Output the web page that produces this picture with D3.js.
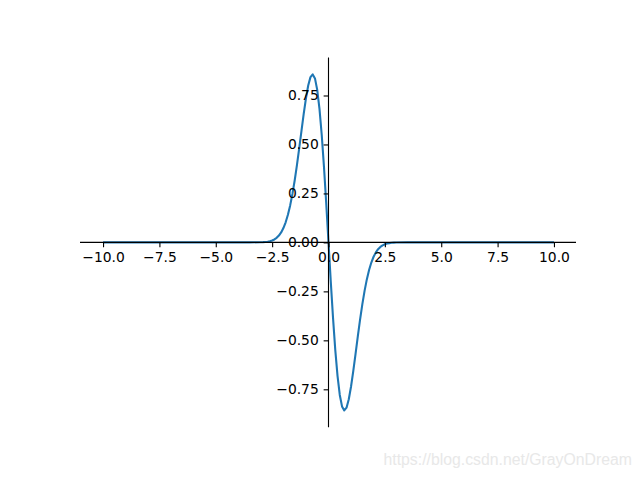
<!DOCTYPE html>
<html><head><meta charset="utf-8">
<script src="https://cdn.jsdelivr.net/npm/d3@7"></script>
<style>body{margin:0;background:#fff}svg{display:block}</style>
</head><body>
<script>
const xs = [-10,-7.5,-5,-4,-3.5,-3.0,-2.9,-2.8,-2.7,-2.6,-2.5,-2.4,-2.3,-2.2,-2.1,-2.0,-1.9,-1.8,-1.7,-1.6,-1.5,-1.4,-1.3,-1.2,-1.1,-1.0,-0.9,-0.8,-0.7,-0.6,-0.5,-0.4,-0.3,-0.2,-0.1,0,
  0.1,0.2,0.3,0.4,0.5,0.6,0.7,0.8,0.9,1.0,1.1,1.2,1.3,1.4,1.5,1.6,1.7,1.8,1.9,2.0,2.1,2.2,2.3,2.4,2.5,2.6,2.7,2.8,2.9,3.0,3.5,4,5,7.5,10];
const ys = [0,0,0,0,0.00003,0.000740,0.001288,0.002206,0.003688,0.006027,0.009650,0.015125,0.023193,0.034791,0.051051,0.073263,0.102798,0.140990,0.188958,0.247376,0.316197,0.394402,0.479752,0.568627,0.656034,0.735759,0.800745,0.843667,0.857677,0.837211,0.778801,0.681715,0.548359,0.384316,0.19801,0,
  -0.19801,-0.384316,-0.548359,-0.681715,-0.778801,-0.837211,-0.857677,-0.843667,-0.800745,-0.735759,-0.656034,-0.568627,-0.479752,-0.394402,-0.316197,-0.247376,-0.188958,-0.140990,-0.102798,-0.073263,-0.051051,-0.034791,-0.023193,-0.015125,-0.009650,-0.006027,-0.003688,-0.002206,-0.001288,-0.000740,-0.00003,0,0,0,0];
const xTicks = [-10,-7.5,-5,-2.5,0,2.5,5,7.5,10];
const yTicks = [-0.75,-0.5,-0.25,0,0.25,0.5,0.75];

const W=640,H=480;
const L=80,R=576,T=57.6,B=427.2;
const svg=d3.select("body").append("svg").attr("width",W).attr("height",H);
const data = xs.map((x,i)=>({x, y:ys[i]}));
const xe=d3.extent(xs), ye=d3.extent(ys);
const xp=(xe[1]-xe[0])*0.05, yp=(ye[1]-ye[0])*0.05;
const x=d3.scaleLinear().domain([xe[0]-xp,xe[1]+xp]).range([L+0.5,R+0.5]);
const y=d3.scaleLinear().domain([ye[0]-yp,ye[1]+yp]).range([B,T]);
const font="DejaVu Sans";

svg.append("path").datum(data)
  .attr("fill","none").attr("stroke","#1f77b4").attr("stroke-width",2.08)
  .attr("stroke-linejoin","round").attr("stroke-linecap","butt")
  .attr("d",d3.line().x(d=>x(d.x)).y(d=>y(d.y)));

const xa=svg.append("g").attr("transform",`translate(0,${y(0)})`)
  .call(d3.axisBottom(x).tickValues(xTicks).tickFormat(v=>v.toFixed(1).replace("-","\u2212")).tickSize(4.86).tickPadding(4.86).tickSizeOuter(0));
const ya=svg.append("g").attr("transform",`translate(${x(0)},0)`)
  .call(d3.axisLeft(y).tickValues(yTicks).tickFormat(v=>v.toFixed(2).replace("-","\u2212")).tickSize(4.86).tickPadding(4.86).tickSizeOuter(0));
[xa,ya].forEach(g=>{
  g.select(".domain").remove();
  g.selectAll(".tick line").attr("stroke","#000").attr("stroke-width",1.11);
  g.selectAll(".tick text").attr("font-family",font).attr("font-size",13.89).attr("fill","#000");
});
// spines
svg.append("line").attr("x1",L).attr("x2",R).attr("y1",y(0)).attr("y2",y(0)).attr("stroke","#000").attr("stroke-width",1.11);
svg.append("line").attr("x1",x(0)).attr("x2",x(0)).attr("y1",T).attr("y2",B).attr("stroke","#000").attr("stroke-width",1.11);

svg.append("text").attr("x",632).attr("y",465).attr("text-anchor","end")
  .attr("font-family","Liberation Sans, Arial, sans-serif").attr("font-size",15.8)
  .attr("fill","#e8e8e8").text("https://blog.csdn.net/GrayOnDream");
</script>
</body></html>
